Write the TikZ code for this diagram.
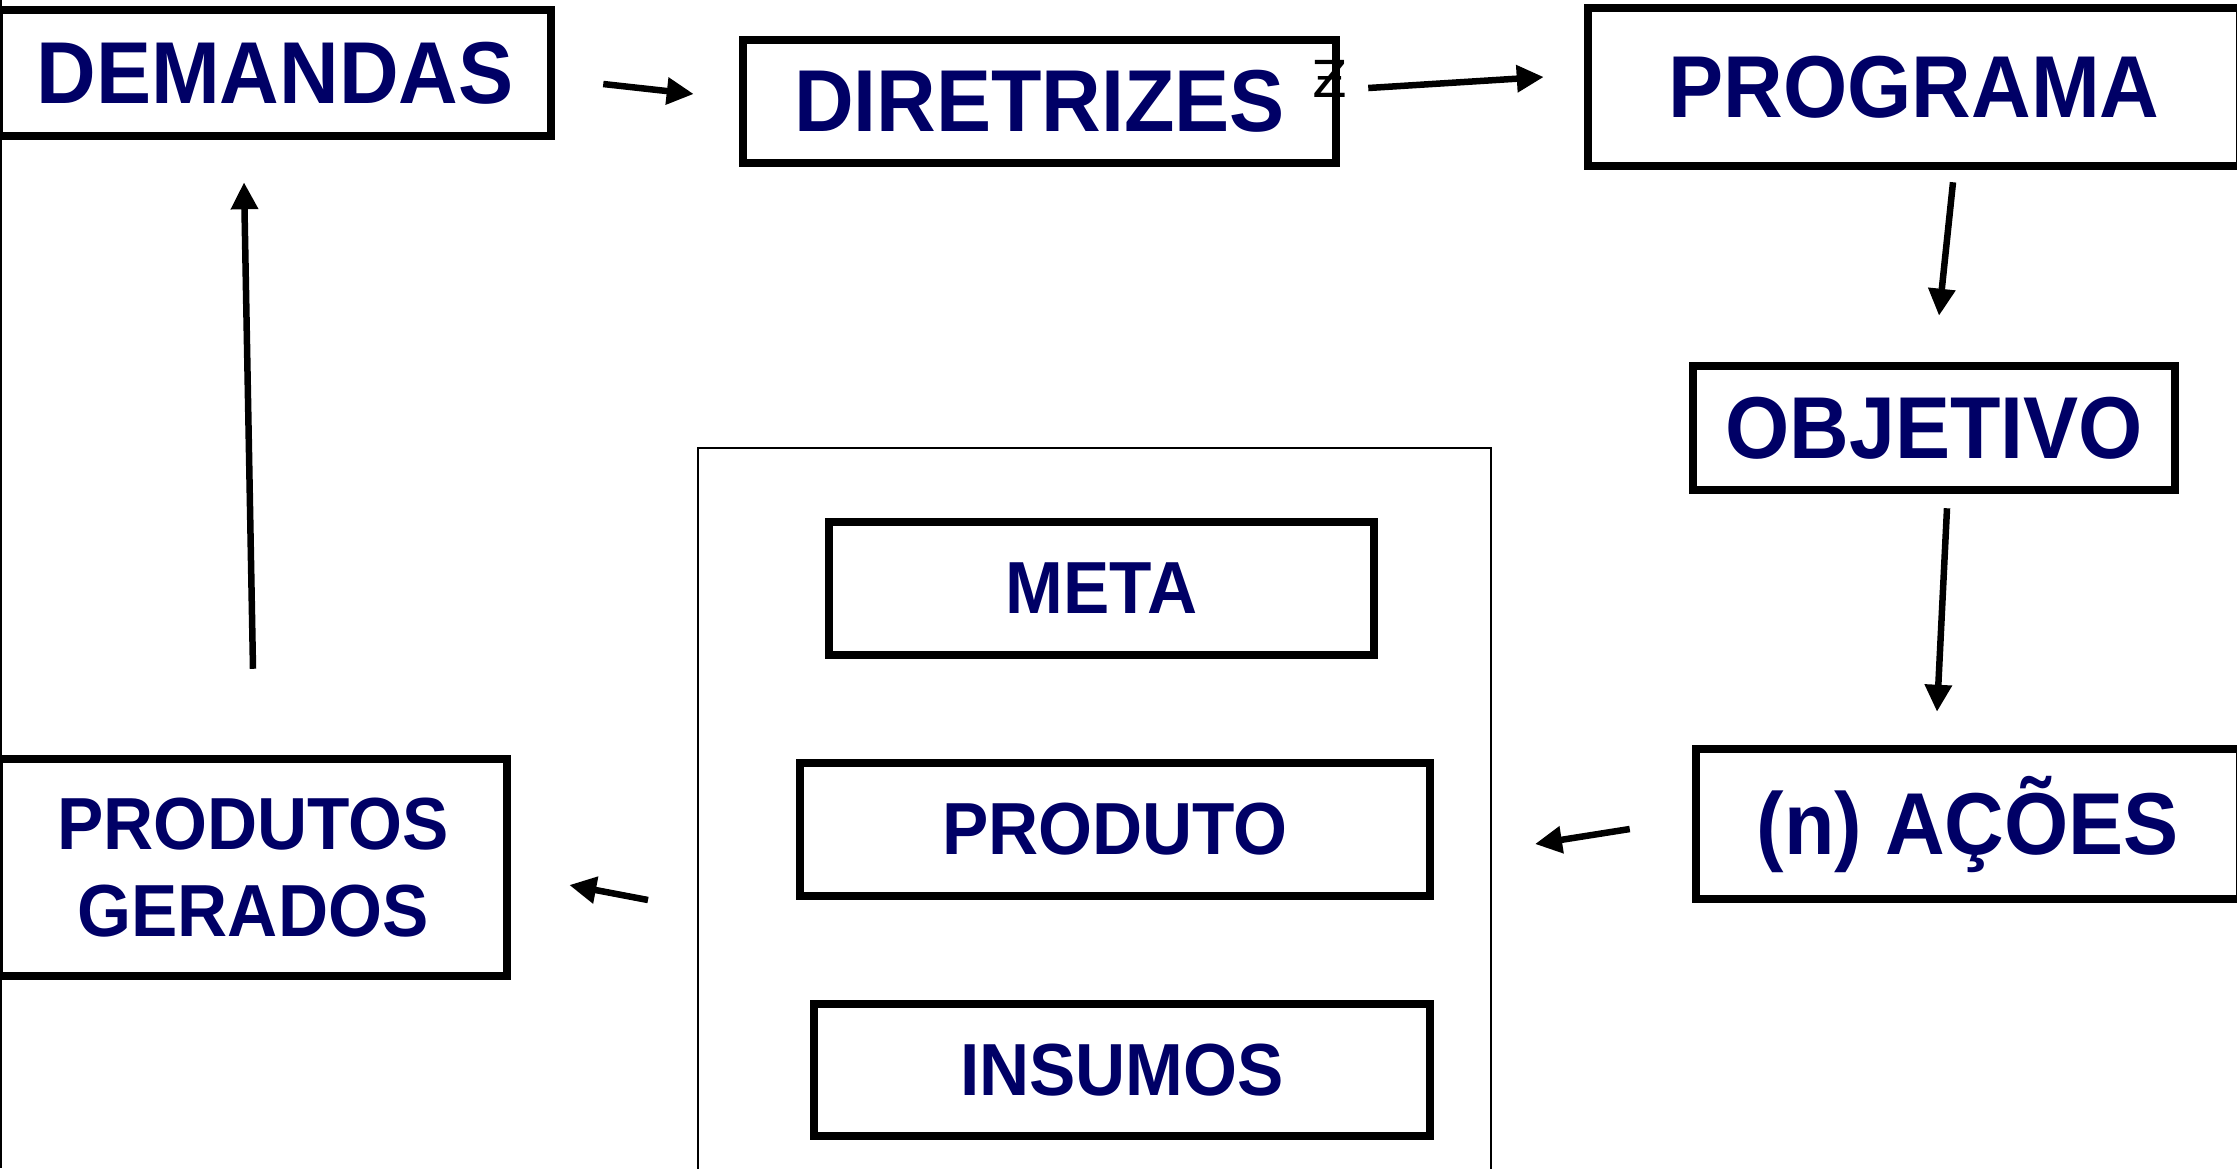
\documentclass[tikz,border=0pt]{standalone}
\usepackage{fontspec}
\setmainfont{Liberation Sans}[FakeStretch=0.94]
\newfontfamily\strayfont{DejaVu Sans}
\usetikzlibrary{arrows.meta,calc}
\definecolor{azulmarinho}{RGB}{0,0,102}

\begin{document}
\begin{tikzpicture}[yscale=-1,
		caixa/.style={draw, rectangle, line width=0.085cm, inner sep=0pt, text=azulmarinho, font=\bfseries\fontsize{25}{30}\selectfont},
		caixapeq/.style={caixa, align=center, font=\bfseries\fontsize{21}{24.7}\selectfont},
		seta/.style={line width=0.065cm, -{Triangle[length=0.27cm,width=0.26cm]}}]
			\useasboundingbox (0,0) rectangle (22.37,11.68);
			\clip (0,0) rectangle (22.37,11.68);
			\draw[line width=0.02cm] (0.01,0) -- (0.01,11.68);
			% linha de cima
			\node[caixa, minimum width=5.52cm, minimum height=1.26cm] (dem) at (2.75,0.73) {DEMANDAS};
			\node[caixa, minimum width=5.93cm, minimum height=1.23cm] (dir) at (10.395,1.015) {DIRETRIZES};
			\node[caixa, minimum width=6.52cm, minimum height=1.58cm] (prog) at (19.14,0.87) {PROGRAMA};
			\node[font=\strayfont\fontsize{14.5}{15}\selectfont, inner sep=0pt] (marca) at (13.30,0.79) {Ƶ};
			% lado direito
			\node[caixa, minimum width=4.82cm, minimum height=1.24cm] (obj) at (19.34,4.28) {OBJETIVO};
			\node[caixa, minimum width=5.44cm, minimum height=1.50cm] (aco) at (19.68,8.24) {(n) AÇÕES};
			% quadro do meio
			\node[draw, line width=0.02cm, minimum width=7.93cm, minimum height=7.40cm, inner sep=0pt] (quadro) at (10.945,8.18) {};
			\node[caixapeq, minimum width=5.45cm, minimum height=1.33cm] (meta) at (11.015,5.885) {META};
			\node[caixapeq, minimum width=6.30cm, minimum height=1.33cm] (prod) at (11.15,8.295) {PRODUTO};
			\node[caixapeq, minimum width=6.16cm, minimum height=1.32cm] (ins) at (11.22,10.70) {INSUMOS};
			% lado esquerdo
			\node[caixapeq, minimum width=5.08cm, minimum height=2.17cm] (ger) at (2.53,8.675) {PRODUTOS\\ GERADOS};
			% setas
			\draw[seta] ($(dem.east)+(0.48,0.11)$) -- ($(dir.west)+(-0.45,-0.075)$);
			\draw[seta] ($(dir.east)+(0.28,-0.135)$) -- ($(prog.west)+(-0.40,-0.10)$);
			\draw[seta] ($(prog.south)+(0.39,0.12)$) -- ($(obj.north)+(0.05,-0.46)$);
			\draw[seta] ($(obj.south)+(0.13,0.14)$) -- ($(aco.north)+(-0.31,-0.33)$);
			\draw[seta] ($(aco.west)+(-0.62,0.05)$) -- ($(quadro.east)+(0.43,0.26)$);
			\draw[seta] ($(quadro.west)+(-0.49,0.82)$) -- ($(ger.east)+(0.58,0.175)$);
			\draw[seta] ($(ger.north)+(0,-0.86)$) -- ($(dem.south)+(-0.31,0.42)$);
		\end{tikzpicture}
\end{document}
